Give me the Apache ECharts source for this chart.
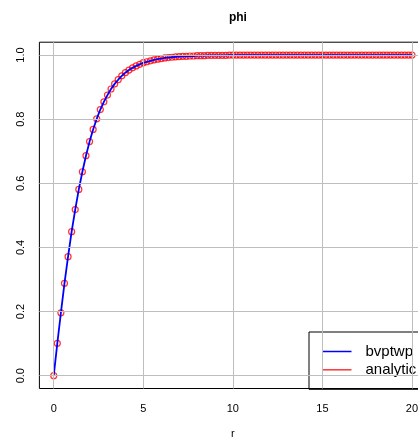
<!DOCTYPE html>
<html>
<head>
<meta charset="utf-8">
<script src="https://cdn.jsdelivr.net/npm/echarts@6/dist/echarts.min.js"></script>
<style>html,body{margin:0;padding:0;background:#fff;}#c{width:418px;height:438px;}</style>
</head>
<body>
<div id="c"></div>
<script>
var rValues = [0,0.2,0.4,0.6,0.8,1,1.2,1.4,1.6,1.8,2,2.2,2.4,2.6,2.8,3,3.2,3.4,3.6,3.8,4,4.2,4.4,4.6,4.8,5,5.2,5.4,5.6,5.8,6,6.2,6.4,6.6,6.8,7,7.2,7.4,7.6,7.8,8,8.2,8.4,8.6,8.8,9,9.2,9.4,9.6,9.8,10,10.2,10.4,10.6,10.8,11,11.2,11.4,11.6,11.8,12,12.2,12.4,12.6,12.8,13,13.2,13.4,13.6,13.8,14,14.2,14.4,14.6,14.8,15,15.2,15.4,15.6,15.8,16,16.2,16.4,16.6,16.8,17,17.2,17.4,17.6,17.8,18,18.2,18.4,18.6,18.8,19,19.2,19.4,19.6,19.8,20];
var bvptwpValues = [0,0.101,0.196,0.288,0.371,0.449,0.518,0.581,0.636,0.686,0.730,0.768,0.801,0.830,0.854,0.875,0.894,0.910,0.923,0.935,0.945,0.953,0.960,0.966,0.971,0.976,0.979,0.982,0.985,0.987,0.989,0.991,0.992,0.993,0.994,0.995,0.996,0.996,0.997,0.997,0.998,0.998,0.998,0.999,0.999,0.999,0.999,0.999,0.999,1,1,1,1,1,1,1,1,1,1,1,1,1,1,1,1,1,1,1,1,1,1,1,1,1,1,1,1,1,1,1,1,1,1,1,1,1,1,1,1,1,1,1,1,1,1,1,1,1,1,1,1];
var analyticValues = [0,0.101,0.196,0.288,0.371,0.449,0.518,0.581,0.636,0.686,0.730,0.768,0.801,0.830,0.854,0.875,0.894,0.910,0.923,0.935,0.945,0.953,0.960,0.966,0.971,0.976,0.979,0.982,0.985,0.987,0.989,0.991,0.992,0.993,0.994,0.995,0.996,0.996,0.997,0.997,0.998,0.998,0.998,0.999,0.999,0.999,0.999,0.999,0.999,1,1,1,1,1,1,1,1,1,1,1,1,1,1,1,1,1,1,1,1,1,1,1,1,1,1,1,1,1,1,1,1,1,1,1,1,1,1,1,1,1,1,1,1,1,1,1,1,1,1,1,1];
var xTicks = [0,5,10,15,20];
var yTicks = [0,0.2,0.4,0.6,0.8,1.0];
var yTickLabels = ['0.0','0.2','0.4','0.6','0.8','1.0'];

function pairs(xs, ys){ return xs.map(function(x,i){ return [x, ys[i]]; }); }

var gridLineData = xTicks.map(function(v){ return {xAxis: v}; })
  .concat(yTicks.map(function(v){ return {yAxis: v}; }));

var chart = echarts.init(document.getElementById('c'), null, {renderer:'canvas'});
var font = 'Liberation Sans, Arial, Helvetica, sans-serif';
chart.setOption({
  animation: false,
  backgroundColor: '#fff',
  title: {
    text: 'phi', left: 232.9, top: 7, textAlign: 'center',
    textStyle: {fontFamily: font, fontSize: 12, fontWeight: 'bold', color: '#000'}
  },
  grid: {
    left: 39.4, top: 42.2, width: 386.9, height: 346.3,
    outerBoundsMode: 'none', containLabel: false,
    show: true, borderColor: '#000', borderWidth: 1, backgroundColor: 'transparent'
  },
  xAxis: {
    type: 'value', min: -0.8, max: 20.8,
    name: 'r', nameLocation: 'middle', nameGap: 40,
    nameTextStyle: {fontFamily: font, fontSize: 11, color: '#000'},
    axisLine: {show: false},
    axisTick: {show: true, length: 7, customValues: xTicks, lineStyle: {color: '#000', width: 1}},
    axisLabel: {customValues: xTicks, fontFamily: font, fontSize: 11, color: '#000', margin: 15},
    splitLine: {show: false}
  },
  yAxis: {
    type: 'value', min: -0.04, max: 1.04,
    axisLine: {show: false},
    axisTick: {show: true, length: 7, customValues: yTicks, lineStyle: {color: '#000', width: 1}},
    axisLabel: {customValues: yTicks, rotate: 90, fontFamily: font, fontSize: 11, color: '#000', margin: 13,
      formatter: function(v){ var i = yTicks.indexOf(Math.round(v*10)/10); return i >= 0 ? yTickLabels[i] : ''; }},
    splitLine: {show: false}
  },
  legend: {
    orient: 'vertical', left: 309, top: 332,
    backgroundColor: 'transparent', borderColor: '#000', borderWidth: 1, borderRadius: 0,
    padding: [12, 6, 12, 13.5],
    itemWidth: 29, itemHeight: 1.5, itemGap: 3.3,
    textStyle: {fontFamily: font, fontSize: 15, color: '#000', lineHeight: 15, padding: [0, 0, 0, 9]},
    data: [
      {name: 'bvptwp', icon: 'rect', itemStyle: {color: '#0000ff'}},
      {name: 'analytic', icon: 'rect', itemStyle: {color: '#ff0000', borderWidth: 0}}
    ]
  },
  series: [
    {
      name: 'grid', type: 'line', data: [], silent: true,
      markLine: {silent: true, symbol: 'none', label: {show: false},
        lineStyle: {color: '#bebebe', width: 1, type: 'solid'}, data: gridLineData, animation: false},
      z: 1
    },
    {
      name: 'analytic', type: 'scatter', data: pairs(rValues, analyticValues),
      symbol: 'circle', symbolSize: 6,
      itemStyle: {color: 'transparent', borderColor: '#ff0000', borderWidth: 1.2},
      z: 3
    },
    {
      name: 'bvptwp', type: 'line', data: pairs(rValues, bvptwpValues),
      showSymbol: false, symbol: 'none',
      lineStyle: {color: '#0000ff', width: 1.8},
      itemStyle: {color: '#0000ff'},
      z: 4
    }
  ]
});
</script>
</body>
</html>
